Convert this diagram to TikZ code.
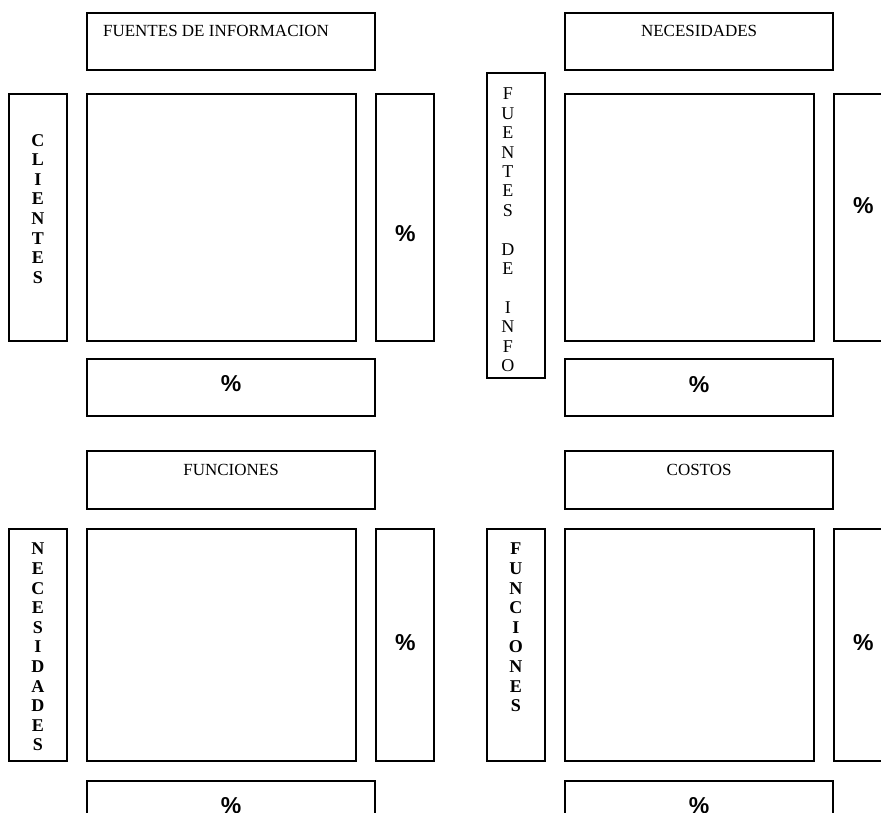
\documentclass[tikz,border=0pt]{standalone}
\usepackage{fontspec}
\setmainfont{Liberation Serif}
\newfontfamily\pctfont{Liberation Sans}
\usetikzlibrary{positioning}

\begin{document}
\begin{tikzpicture}[
  x=1pt, y=-1pt,
  line width=2.2pt,
  matbox/.style={
    draw=black,
    inner sep=0pt,
    anchor=north west
  },
  headbox/.style={
    draw=black,
    inner sep=0pt,
    minimum height=57pt
  },
  sidebox/.style={
    draw=black,
    inner sep=0pt,
    minimum width=58pt
  },
  headlabel/.style={
    font=\fontsize{17}{18}\selectfont,
    inner sep=0pt
  },
  vlabel/.style={
    font=\fontsize{18}{19.6}\selectfont\bfseries,
    align=center,
    inner sep=0pt,
    anchor=north
  },
  vlabelthin/.style={
    vlabel,
    font=\fontsize{18}{19.4}\selectfont
  },
  pct/.style={
    font=\pctfont\fontsize{23}{26}\selectfont\bfseries,
    inner sep=0pt
  }
]
  \useasboundingbox (0,0) rectangle (881,813);
  \clip (0,0) rectangle (881,813);

  % Matrix 1: Clientes vs Fuentes de informacion
  \node[matbox, minimum width=269pt, minimum height=247pt] (sqA) at (86,93) {};
  \node[headbox, minimum width=288pt, above=22pt of sqA.north west, anchor=south west] (headA) {};
  \node[headlabel, anchor=base west] (headAtxt) at ([xshift=16pt, yshift=-25pt]headA.north west) {FUENTES DE INFORMACION};
  \node[sidebox, minimum height=247pt, left=18pt of sqA.north west, anchor=north east] (sideA) {};
  \node[vlabel] (sideAtxt) at ([yshift=-40pt]sideA.north) {C\\L\\I\\E\\N\\T\\E\\S};
  \node[sidebox, minimum height=247pt, right=18pt of sqA.north east, anchor=north west] (rightA) {};
  \node[pct] (rightAtxt) at ([yshift=-16pt]rightA.center) {\%};
  \node[headbox, minimum width=288pt, below=16pt of sqA.south west, anchor=north west] (botA) {};
  \node[pct] (botAtxt) at ([yshift=4.5pt]botA.center) {\%};

  % Matrix 2: Fuentes de info vs Necesidades
  \node[matbox, minimum width=249pt, minimum height=247pt] (sqB) at (564,93) {};
  \node[headbox, minimum width=268pt, above=22pt of sqB.north west, anchor=south west] (headB) {};
  \node[headlabel, anchor=base] (headBtxt) at ([yshift=-25pt]headB.north) {NECESIDADES};
  \node[sidebox, minimum height=305pt, anchor=north east] (sideB) at ([xshift=-18pt, yshift=21pt]sqB.north west) {};
  \node[vlabelthin] (sideBtxt) at ([xshift=-8pt, yshift=-15pt]sideB.north) {F\\U\\E\\N\\T\\E\\S\\\mbox{}\\D\\E\\\mbox{}\\I\\N\\F\\O};
  \node[sidebox, minimum height=247pt, right=18pt of sqB.north east, anchor=north west] (rightB) {};
  \node[pct] (rightBtxt) at ([yshift=12.5pt]rightB.center) {\%};
  \node[headbox, minimum width=268pt, below=16pt of sqB.south west, anchor=north west] (botB) {};
  \node[pct] (botBtxt) at ([yshift=3.3pt]botB.center) {\%};

  % Matrix 3: Necesidades vs Funciones
  \node[matbox, minimum width=269pt, minimum height=232pt] (sqC) at (86,528) {};
  \node[headbox, minimum width=288pt, minimum height=58pt, above=18pt of sqC.north west, anchor=south west] (headC) {};
  \node[headlabel, anchor=base] (headCtxt) at ([yshift=-26pt]headC.north) {FUNCIONES};
  \node[sidebox, minimum height=232pt, left=18pt of sqC.north west, anchor=north east] (sideC) {};
  \node[vlabel] (sideCtxt) at ([yshift=-14pt]sideC.north) {N\\E\\C\\E\\S\\I\\D\\A\\D\\E\\S};
  \node[sidebox, minimum height=232pt, right=18pt of sqC.north east, anchor=north west] (rightC) {};
  \node[pct] (rightCtxt) at ([yshift=2.3pt]rightC.center) {\%};
  \node[headbox, minimum width=288pt, below=18pt of sqC.south west, anchor=north west] (botC) {};
  \node[pct] (botCtxt) at ([yshift=4pt]botC.center) {\%};

  % Matrix 4: Funciones vs Costos
  \node[matbox, minimum width=249pt, minimum height=232pt] (sqD) at (564,528) {};
  \node[headbox, minimum width=268pt, minimum height=58pt, above=18pt of sqD.north west, anchor=south west] (headD) {};
  \node[headlabel, anchor=base] (headDtxt) at ([yshift=-26pt]headD.north) {COSTOS};
  \node[sidebox, minimum height=232pt, left=18pt of sqD.north west, anchor=north east] (sideD) {};
  \node[vlabel] (sideDtxt) at ([yshift=-14pt]sideD.north) {F\\U\\N\\C\\I\\O\\N\\E\\S};
  \node[sidebox, minimum height=232pt, right=18pt of sqD.north east, anchor=north west] (rightD) {};
  \node[pct] (rightDtxt) at ([yshift=3pt]rightD.center) {\%};
  \node[headbox, minimum width=268pt, below=18pt of sqD.south west, anchor=north west] (botD) {};
  \node[pct] (botDtxt) at ([yshift=4pt]botD.center) {\%};

\end{tikzpicture}
\end{document}
